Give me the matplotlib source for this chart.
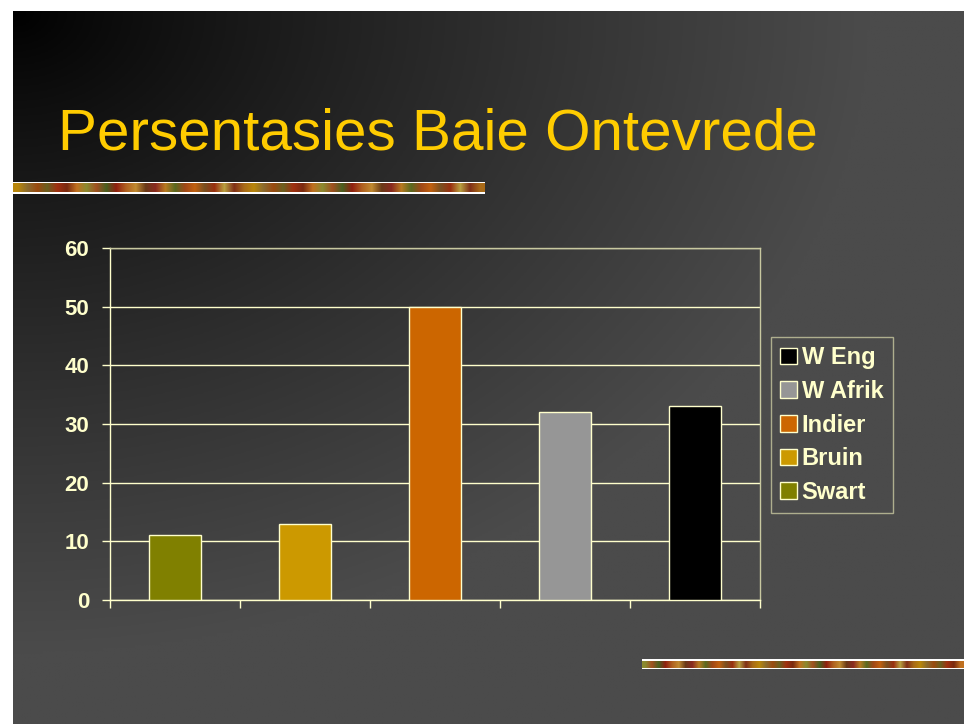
import numpy as np
import matplotlib.pyplot as plt
from matplotlib.colors import to_rgb

groups = ['Swart', 'Bruin', 'Indier', 'W Afrik', 'W Eng']
values = [11, 13, 50, 32, 33]
bar_colors = ['#808000', '#cc9900', '#cc6600', '#969696', '#000000']
y_ticks = [0, 10, 20, 30, 40, 50, 60]
title = 'Persentasies Baie Ontevrede'

cream = '#ffffcc'
W, H = 964, 724

fig = plt.figure(figsize=(W / 100, H / 100), dpi=100)
fig.patch.set_facecolor('white')

# slide background: dark top-left corner fading to grey
bg = fig.add_axes([13 / W, 0, (W - 13) / W, (H - 11) / H])
bg.set_axis_off()
xx, yy = np.meshgrid(np.linspace(0, 1, 300), np.linspace(0, 1, 240))
f = np.clip(np.sqrt(xx ** 2 + yy ** 2) / 0.9, 0, 1) ** 0.85
grey = 0x4b / 255 * f
bg.imshow(np.dstack([grey, grey, grey]), aspect='auto', extent=[0, 1, 1, 0])
bg.set_xlim(0, 1)
bg.set_ylim(1, 0)

# decorative strips
strip_cols = ['#b8860b', '#8b6b2e', '#9a4a10', '#6b6020', '#a03010', '#7a2a10',
              '#c07020', '#8a8a30', '#a05020', '#4a6020', '#902010', '#b06020',
              '#c08a30', '#6a3a18', '#8a2a20', '#b87a20', '#5a6a20', '#a04818',
              '#c06010', '#7a5020', '#9a3010', '#b8a040', '#803018', '#a86a18']


def strip(x0, x1, y0, y1, shift):
    ax = fig.add_axes([x0 / W, 1 - y1 / H, (x1 - x0) / W, (y1 - y0) / H])
    ax.set_xticks([])
    ax.set_yticks([])
    for s in ax.spines.values():
        s.set_visible(False)
    ax.set_facecolor('white')
    cols = strip_cols[shift:] + strip_cols[:shift]
    row = np.array([to_rgb(c) for c in cols * 2])[None, :, :]
    ax.imshow(row, aspect='auto', extent=[0, 1, 0.15, 0.85], interpolation='bilinear')
    ax.set_xlim(0, 1)
    ax.set_ylim(0, 1)


strip(13, 485, 182, 194, 0)
strip(642, 964, 659, 669, 7)

fig.text(58 / W, 1 - 150 / H, title, color='#ffcc00', fontsize=42,
         family='Liberation Sans', va='baseline', ha='left')

ax = fig.add_axes([110 / W, (H - 600) / H, 650 / W, 352 / H])
ax.patch.set_alpha(0)
x = np.arange(len(groups)) + 0.5
for xi, v, c, g in zip(x, values, bar_colors, groups):
    ax.bar(xi, v, width=0.4, color=c, edgecolor=cream, linewidth=1,
           label=g, zorder=3)
ax.set_xlim(0, len(groups))
ax.set_ylim(0, 60)
ax.set_yticks(y_ticks)
ax.set_xticks(np.arange(len(groups) + 1))
ax.set_xticklabels([])
ax.grid(axis='y', color=cream, linewidth=1, zorder=1)
ax.set_axisbelow(True)
for s in ax.spines.values():
    s.set_color(cream)
    s.set_linewidth(1)
ax.spines['top'].set_color('#c8c8a0')
ax.spines['right'].set_color('#c8c8a0')
ax.tick_params(axis='y', colors=cream, length=6, width=1, pad=9,
               labelsize=16)
ax.tick_params(axis='x', colors=cream, length=6, width=1)
for lab in ax.get_yticklabels():
    lab.set_fontweight('bold')
    lab.set_family('Liberation Sans')

handles, labels = ax.get_legend_handles_labels()
leg = fig.legend(handles[::-1], labels[::-1], loc='center left',
                 bbox_to_anchor=(771 / W, 1 - 425 / H),
                 frameon=True, fancybox=False, facecolor='none',
                 edgecolor='#c8c8a0', handlelength=0.7, handleheight=0.7,
                 handletextpad=0.2, labelspacing=0.45, borderpad=0.4,
                 borderaxespad=0,
                 prop={'family': 'Liberation Sans', 'weight': 'bold', 'size': 17})
leg.get_frame().set_linewidth(1)
for t in leg.get_texts():
    t.set_color(cream)

fig.savefig('out.png', dpi=100)
